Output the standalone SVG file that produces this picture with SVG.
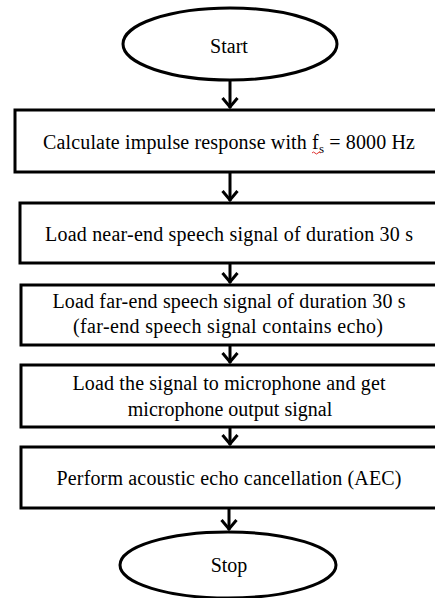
<svg xmlns="http://www.w3.org/2000/svg" width="435" height="598" viewBox="0 0 435 598">
<style>
.shape{fill:#fff;stroke:#000;stroke-width:3}
.t{font-family:"Liberation Serif","Times New Roman",serif;font-size:20px;fill:#000;text-anchor:middle}
.c{stroke:#000;stroke-width:3;fill:none}
</style>
<defs>
<marker id="arr" markerUnits="userSpaceOnUse" markerWidth="20" markerHeight="20" refX="12" refY="10" orient="auto" viewBox="0 0 20 20">
<path d="M2,2.5 L11,10 L2,17.5" fill="none" stroke="#000" stroke-width="3"/>
</marker>
</defs>
<rect width="435" height="598" fill="#fff"/>
<g id="connectors">
<line class="c" x1="230" y1="81" x2="230" y2="108" marker-end="url(#arr)"/>
<line class="c" x1="230" y1="172" x2="230" y2="201" marker-end="url(#arr)"/>
<line class="c" x1="230" y1="263" x2="230" y2="283" marker-end="url(#arr)"/>
<line class="c" x1="230" y1="345" x2="230" y2="363" marker-end="url(#arr)"/>
<line class="c" x1="230" y1="427" x2="230" y2="445" marker-end="url(#arr)"/>
<line class="c" x1="229" y1="508" x2="229" y2="530" marker-end="url(#arr)"/>
</g>
<g id="start">
<ellipse class="shape" cx="230" cy="44" rx="107" ry="36"/>
<text class="t" x="229" y="53">Start</text>
</g>
<g id="calc">
<rect class="shape" x="15" y="110" width="440" height="62"/>
<text class="t" x="229" y="149" textLength="372" lengthAdjust="spacing">Calculate impulse response with f<tspan font-size="13" dy="4">s</tspan><tspan dy="-4"> = 8000 Hz</tspan></text>
<path d="M312,153 q1.5,-2 3,0 t3,0 t3,0" fill="none" stroke="#e03030" stroke-width="1"/>
</g>
<g id="near">
<rect class="shape" x="20" y="203" width="440" height="60"/>
<text class="t" x="229" y="241" textLength="368" lengthAdjust="spacing">Load near-end speech signal of duration 30 s</text>
</g>
<g id="far">
<rect class="shape" x="21" y="285" width="440" height="60"/>
<text class="t" x="229" y="308" textLength="353" lengthAdjust="spacing">Load far-end speech signal of duration 30 s</text>
<text class="t" x="228" y="333" textLength="310" lengthAdjust="spacing">(far-end speech signal contains echo)</text>
</g>
<g id="mic">
<rect class="shape" x="21" y="365" width="440" height="62"/>
<text class="t" x="229" y="390" textLength="313" lengthAdjust="spacing">Load the signal to microphone and get</text>
<text class="t" x="230" y="416">microphone output signal</text>
</g>
<g id="aec">
<rect class="shape" x="21" y="447" width="440" height="61"/>
<text class="t" x="229" y="485" textLength="345" lengthAdjust="spacing">Perform acoustic echo cancellation (AEC)</text>
</g>
<g id="stop">
<ellipse class="shape" cx="228" cy="565" rx="108" ry="33"/>
<text class="t" x="229" y="572">Stop</text>
</g>
</svg>
